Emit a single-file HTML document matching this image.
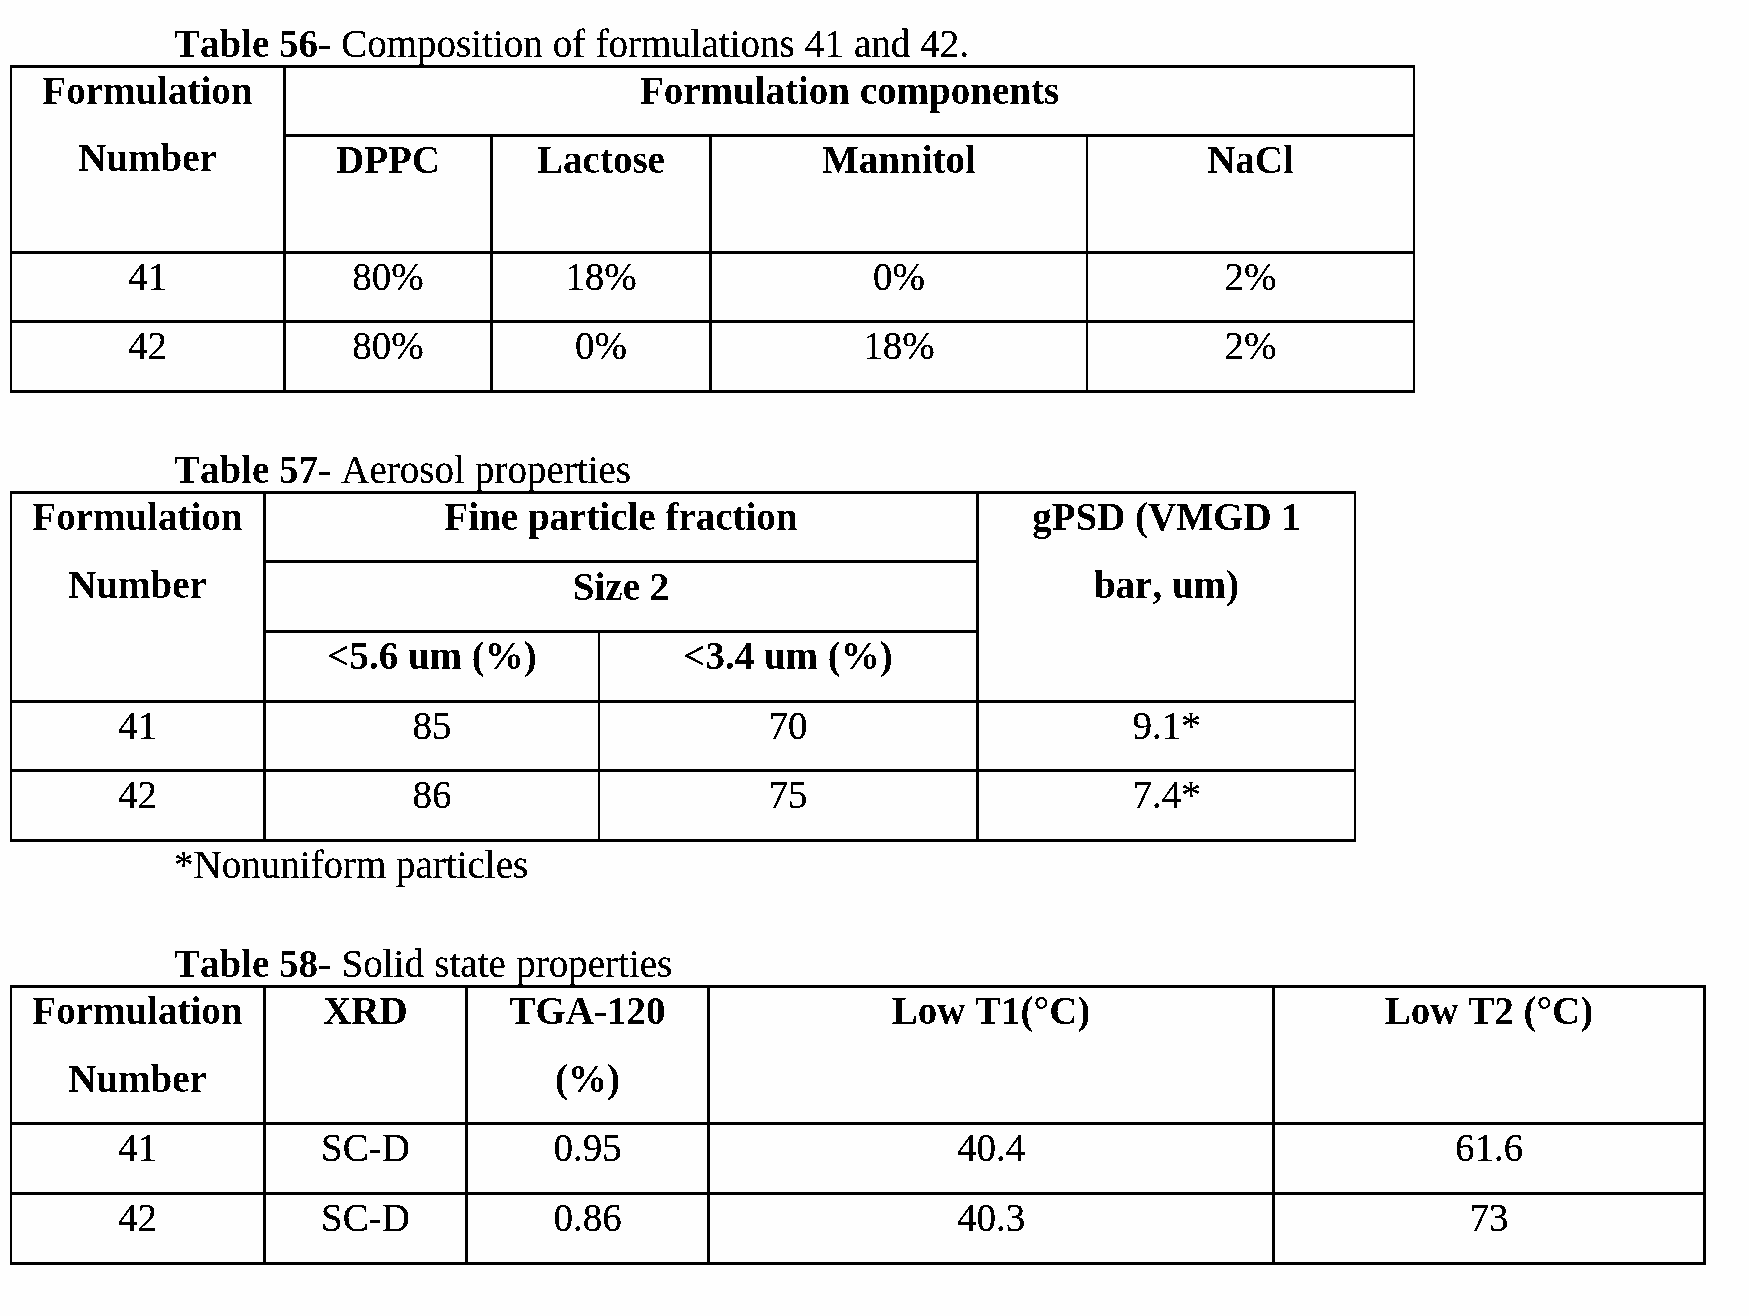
<!DOCTYPE html>
<html lang="en">
<head>
<meta charset="utf-8">
<title>Tables 56-58</title>
<style>
html,body{margin:0;padding:0;background:#fefefe;}
body{width:1749px;height:1316px;position:relative;overflow:hidden;font-family:"Liberation Serif",serif;font-size:39px;line-height:43px;color:#000;font-kerning:none;font-variant-ligatures:none;font-feature-settings:"kern" 0,"liga" 0;}
.r{position:absolute;background:#000;}
.t{position:absolute;white-space:nowrap;height:43px;filter:url(#fr);}
#tx{position:absolute;left:0;top:0;width:1749px;height:1316px;}
.c{width:600px;text-align:center;}
.b{font-weight:bold;filter:url(#fb);}
.t b{font-weight:bold;display:inline-block;filter:url(#fb);}
</style>
</head>
<body>
<div class="r" style="left:10px;top:65px;width:1405px;height:3px"></div>
<div class="r" style="left:283px;top:134px;width:1132px;height:3px"></div>
<div class="r" style="left:10px;top:251px;width:1405px;height:3px"></div>
<div class="r" style="left:10px;top:320px;width:1405px;height:3px"></div>
<div class="r" style="left:10px;top:390px;width:1405px;height:3px"></div>
<div class="r" style="left:10px;top:65px;width:2px;height:328px"></div>
<div class="r" style="left:283px;top:65px;width:3px;height:328px"></div>
<div class="r" style="left:490px;top:134px;width:3px;height:259px"></div>
<div class="r" style="left:709px;top:134px;width:3px;height:259px"></div>
<div class="r" style="left:1086px;top:134px;width:2px;height:259px"></div>
<div class="r" style="left:1413px;top:65px;width:2px;height:328px"></div>
<div class="r" style="left:10px;top:491px;width:1346px;height:3px"></div>
<div class="r" style="left:263px;top:560px;width:716px;height:3px"></div>
<div class="r" style="left:263px;top:630px;width:716px;height:3px"></div>
<div class="r" style="left:10px;top:700px;width:1346px;height:3px"></div>
<div class="r" style="left:10px;top:769px;width:1346px;height:3px"></div>
<div class="r" style="left:10px;top:839px;width:1346px;height:3px"></div>
<div class="r" style="left:10px;top:491px;width:2px;height:351px"></div>
<div class="r" style="left:263px;top:491px;width:3px;height:351px"></div>
<div class="r" style="left:598px;top:630px;width:2px;height:212px"></div>
<div class="r" style="left:976px;top:491px;width:3px;height:351px"></div>
<div class="r" style="left:1354px;top:491px;width:2px;height:351px"></div>
<div class="r" style="left:10px;top:985px;width:1696px;height:3px"></div>
<div class="r" style="left:10px;top:1122px;width:1696px;height:3px"></div>
<div class="r" style="left:10px;top:1192px;width:1696px;height:3px"></div>
<div class="r" style="left:10px;top:1262px;width:1696px;height:3px"></div>
<div class="r" style="left:10px;top:985px;width:2px;height:280px"></div>
<div class="r" style="left:263px;top:985px;width:3px;height:280px"></div>
<div class="r" style="left:465px;top:985px;width:3px;height:280px"></div>
<div class="r" style="left:707px;top:985px;width:3px;height:280px"></div>
<div class="r" style="left:1272px;top:985px;width:3px;height:280px"></div>
<div class="r" style="left:1703px;top:985px;width:3px;height:280px"></div>
<div id="tx">
<div class="t" style="left:174px;top:22px"><b>Table 56</b><span style="word-spacing:0.35px">- Composition of formulations 41 and 42.</span></div>
<div class="t" style="left:174px;top:448px"><b>Table 57</b><span style="word-spacing:0.5px">- Aerosol properties</span></div>
<div class="t" style="left:174px;top:843px">*Nonuniform particles</div>
<div class="t" style="left:174px;top:942px"><b>Table 58</b><span style="word-spacing:0.7px">- Solid state properties</span></div>
<div class="t c b" style="left:-152.5px;top:69px">Formulation</div>
<div class="t c b" style="left:-152.5px;top:136px">Number</div>
<div class="t c b" style="left:549.5px;top:69px">Formulation components</div>
<div class="t c b" style="left:88px;top:138px">DPPC</div>
<div class="t c b" style="left:301px;top:138px">Lactose</div>
<div class="t c b" style="left:599px;top:138px">Mannitol</div>
<div class="t c b" style="left:950.5px;top:138px">NaCl</div>
<div class="t c" style="left:-152.5px;top:255px">41</div>
<div class="t c" style="left:88px;top:255px">80%</div>
<div class="t c" style="left:301px;top:255px">18%</div>
<div class="t c" style="left:599px;top:255px">0%</div>
<div class="t c" style="left:950.5px;top:255px">2%</div>
<div class="t c" style="left:-152.5px;top:324px">42</div>
<div class="t c" style="left:88px;top:324px">80%</div>
<div class="t c" style="left:301px;top:324px">0%</div>
<div class="t c" style="left:599px;top:324px">18%</div>
<div class="t c" style="left:950.5px;top:324px">2%</div>
<div class="t c b" style="left:-162.5px;top:495px">Formulation</div>
<div class="t c b" style="left:-162.5px;top:563px">Number</div>
<div class="t c b" style="left:321px;top:495px">Fine particle fraction</div>
<div class="t c b" style="left:321px;top:565px">Size 2</div>
<div class="t c b" style="left:132px;top:634px">&lt;5.6 um (%)</div>
<div class="t c b" style="left:488px;top:634px">&lt;3.4 um (%)</div>
<div class="t c b" style="left:866.5px;top:495px">gPSD (VMGD 1</div>
<div class="t c b" style="left:866.5px;top:563px">bar, um)</div>
<div class="t c" style="left:-162.5px;top:704px">41</div>
<div class="t c" style="left:132px;top:704px">85</div>
<div class="t c" style="left:488px;top:704px">70</div>
<div class="t c" style="left:866.5px;top:704px">9.1*</div>
<div class="t c" style="left:-162.5px;top:773px">42</div>
<div class="t c" style="left:132px;top:773px">86</div>
<div class="t c" style="left:488px;top:773px">75</div>
<div class="t c" style="left:866.5px;top:773px">7.4*</div>
<div class="t c b" style="left:-162.5px;top:989px">Formulation</div>
<div class="t c b" style="left:-162.5px;top:1057px">Number</div>
<div class="t c b" style="left:65.5px;top:989px">XRD</div>
<div class="t c b" style="left:287.5px;top:989px">TGA-120</div>
<div class="t c b" style="left:287.5px;top:1057px">(%)</div>
<div class="t c b" style="left:691px;top:989px">Low T1(&deg;C)</div>
<div class="t c b" style="left:1189px;top:989px">Low T2 (&deg;C)</div>
<div class="t c" style="left:-162.5px;top:1126px">41</div>
<div class="t c" style="left:65.5px;top:1126px">SC-D</div>
<div class="t c" style="left:287.5px;top:1126px">0.95</div>
<div class="t c" style="left:691px;top:1126px">40.4</div>
<div class="t c" style="left:1189px;top:1126px">61.6</div>
<div class="t c" style="left:-162.5px;top:1196px">42</div>
<div class="t c" style="left:65.5px;top:1196px">SC-D</div>
<div class="t c" style="left:287.5px;top:1196px">0.86</div>
<div class="t c" style="left:691px;top:1196px">40.3</div>
<div class="t c" style="left:1189px;top:1196px">73</div>
</div>
<svg width="0" height="0" style="position:absolute;left:0;top:0"><filter id="fr" color-interpolation-filters="sRGB"><feComponentTransfer><feFuncA type="discrete" tableValues="0 1 1"/></feComponentTransfer></filter><filter id="fb" color-interpolation-filters="sRGB"><feComponentTransfer><feFuncA type="discrete" tableValues="0 1"/></feComponentTransfer></filter></svg>
</body>
</html>
